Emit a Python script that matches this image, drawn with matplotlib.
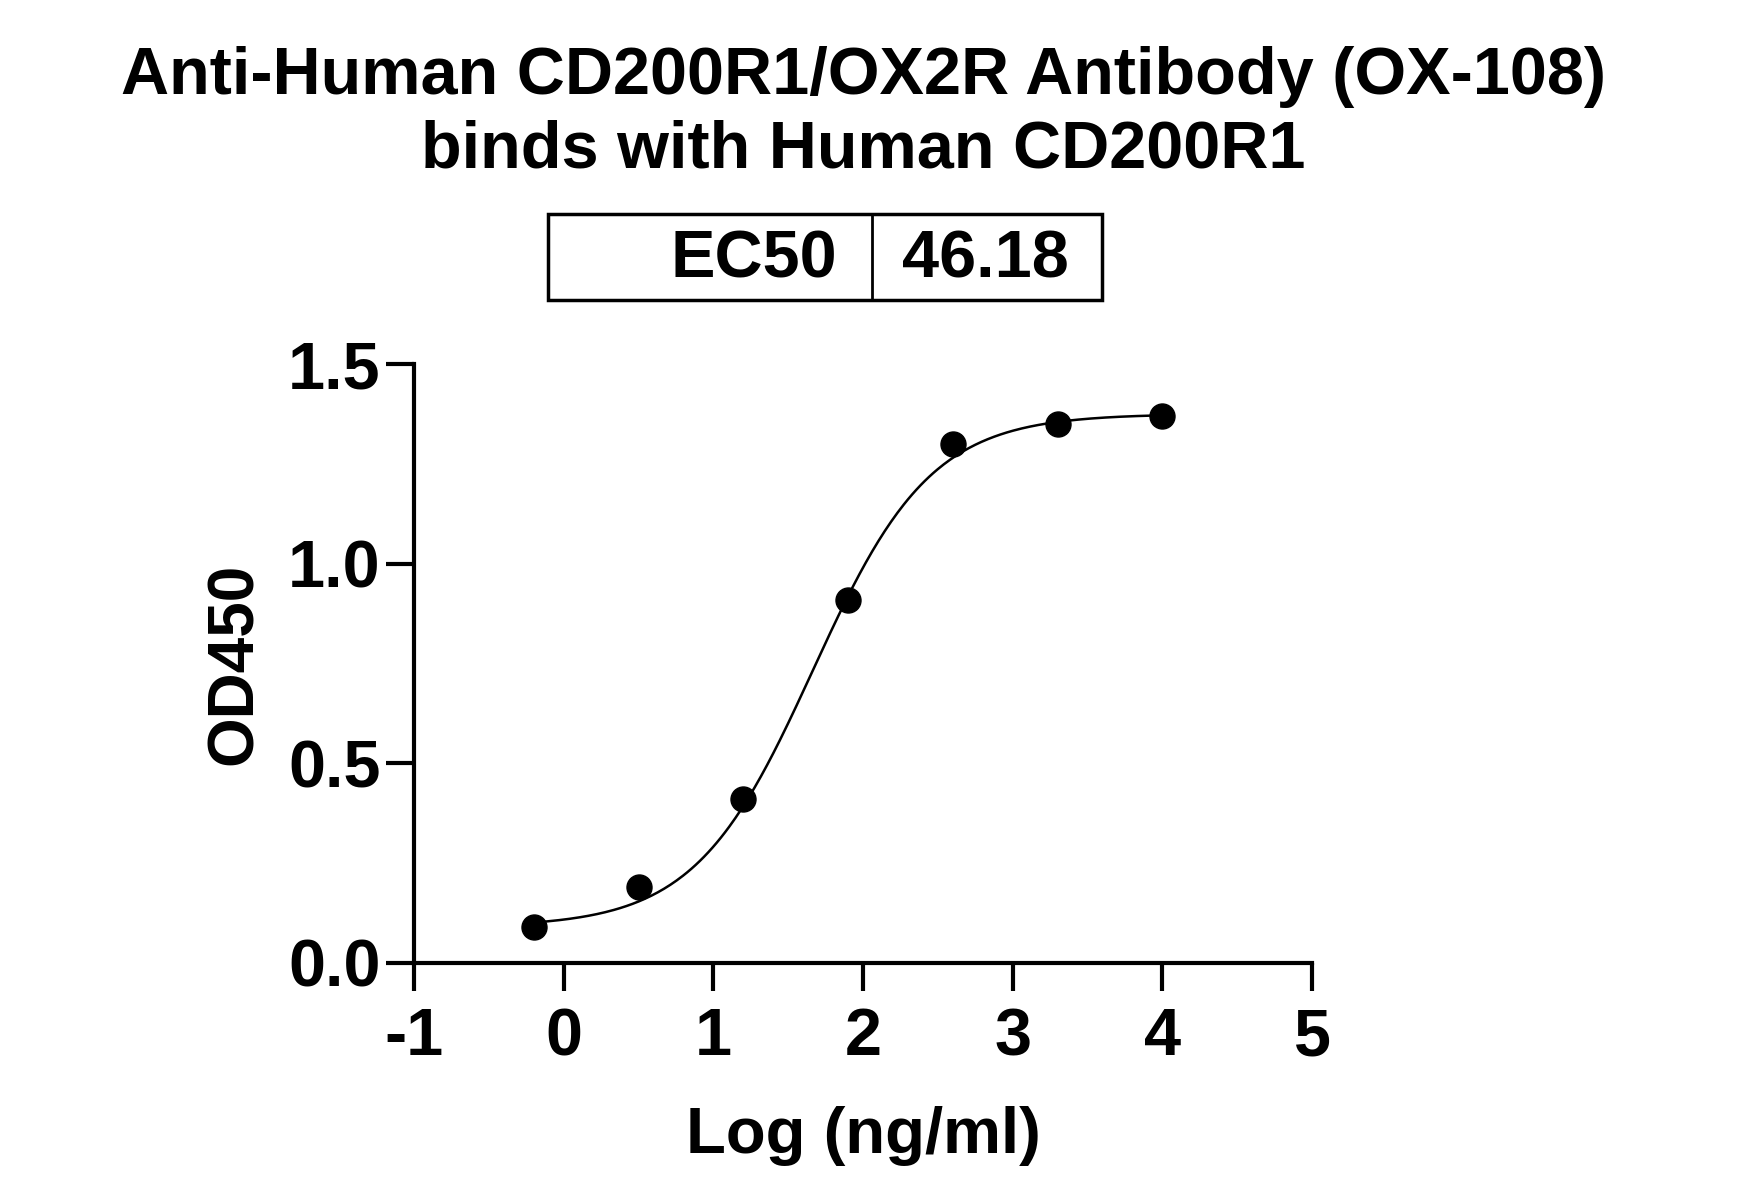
import matplotlib
matplotlib.use("Agg")
import matplotlib.pyplot as plt
import matplotlib.patches as mpatches
import numpy as np

plt.rcParams["font.family"] = ["Liberation Sans", "DejaVu Sans"]
plt.rcParams["font.weight"] = "bold"
plt.rcParams["axes.unicode_minus"] = False

# measured points
log_conc = [-0.2, 0.5, 1.2, 1.9, 2.6, 3.3, 4.0]
od450 = [0.09, 0.19, 0.41, 0.91, 1.30, 1.35, 1.37]

# 4PL fit parameters
fit_bottom = 0.09
fit_top = 1.375
ec50 = 46.18
fit_hill = 1.1

title_lines = ["Anti-Human CD200R1/OX2R Antibody (OX-108)", "binds with Human CD200R1"]
x_ticks = [-1, 0, 1, 2, 3, 4, 5]
y_ticks = [0.0, 0.5, 1.0, 1.5]

fig = plt.figure(figsize=(17.55, 11.97), dpi=100)
ax = fig.add_axes([0.2359, 0.1955, 0.5117, 0.5004])

xs = np.linspace(log_conc[0], log_conc[-1], 300)
curve = fit_bottom + (fit_top - fit_bottom) / (1 + 10 ** ((np.log10(ec50) - xs) * fit_hill))
ax.plot(xs, curve, color="black", lw=1.8)
ax.plot(log_conc, od450, "o", color="black", ms=18)

ax.set_xlim(-1, 5)
ax.set_ylim(0, 1.5)
ax.set_xticks(x_ticks)
ax.set_yticks(y_ticks)
ax.set_yticklabels([f"{v:.1f}" for v in y_ticks])
for s in ["top", "right"]:
    ax.spines[s].set_visible(False)
for s in ["left", "bottom"]:
    ax.spines[s].set_linewidth(3)
ax.tick_params(width=3, length=20)
ax.tick_params(axis="y", pad=4, labelsize=48)
ax.tick_params(axis="x", pad=12, labelsize=48)
ax.set_xlabel("Log (ng/ml)", fontsize=47, fontweight="bold", labelpad=26)
ax.set_ylabel("OD450", fontsize=46, fontweight="bold", labelpad=17)

fig.text(0.492, 1 - 77 / 1197, title_lines[0], ha="center", va="center",
         fontsize=48, fontweight="bold")
fig.text(0.492, 1 - 150 / 1197, title_lines[1], ha="center", va="center",
         fontsize=48, fontweight="bold")

# EC50 table box
x0, x1, xm = 548 / 1755, 1102 / 1755, 872 / 1755
y0, y1 = 1 - 300 / 1197, 1 - 214 / 1197
fig.patches.append(mpatches.Rectangle((x0, y0), x1 - x0, y1 - y0, fill=False,
                                      lw=2.5, ec="black", transform=fig.transFigure))
fig.add_artist(plt.Line2D([xm, xm], [y0, y1], lw=2, color="black",
                          transform=fig.transFigure))
ym = (y0 + y1) / 2 - 4 / 1197
fig.text(837 / 1755, ym, "EC50", ha="right", va="center", fontsize=48, fontweight="bold")
fig.text(902 / 1755, ym, f"{ec50:.2f}", ha="left", va="center", fontsize=48, fontweight="bold")

fig.savefig("out.png", dpi=100)
